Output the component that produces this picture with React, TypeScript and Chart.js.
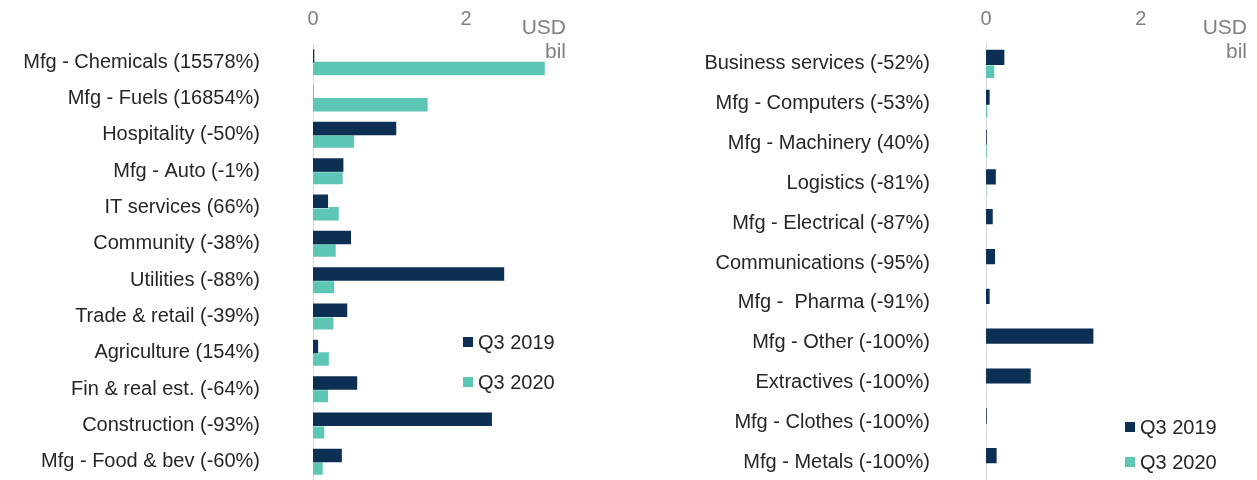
import React, { useEffect, useRef } from "react";
import { Chart, registerables } from "chart.js";

Chart.register(...registerables);

const leftCategories = [
  "Mfg - Chemicals (15578%)",
  "Mfg - Fuels (16854%)",
  "Hospitality (-50%)",
  "Mfg - Auto (-1%)",
  "IT services (66%)",
  "Community (-38%)",
  "Utilities (-88%)",
  "Trade & retail (-39%)",
  "Agriculture (154%)",
  "Fin & real est. (-64%)",
  "Construction (-93%)",
  "Mfg - Food & bev (-60%)",
];
const leftQ3_2019 = [0.03, 0.01, 1.1, 0.41, 0.21, 0.51, 2.51, 0.46, 0.08, 0.59, 2.35, 0.39];
const leftQ3_2020 = [3.04, 1.51, 0.55, 0.4, 0.35, 0.31, 0.29, 0.28, 0.22, 0.21, 0.16, 0.14];

const rightCategories = [
  "Business services (-52%)",
  "Mfg - Computers (-53%)",
  "Mfg - Machinery (40%)",
  "Logistics (-81%)",
  "Mfg - Electrical (-87%)",
  "Communications (-95%)",
  "Mfg -  Pharma (-91%)",
  "Mfg - Other (-100%)",
  "Extractives (-100%)",
  "Mfg - Clothes (-100%)",
  "Mfg - Metals (-100%)",
];
const rightQ3_2019 = [0.25, 0.06, 0.02, 0.14, 0.1, 0.13, 0.06, 1.4, 0.59, 0.02, 0.15];
const rightQ3_2020 = [0.12, 0.03, 0.02, 0.01, 0.005, 0, 0, 0, 0, 0, 0];

const seriesNames = ["Q3 2019", "Q3 2020"];
const xTickValues = [0, 2];
const unitLabel = ["USD", "bil"];

const NAVY = "#0e2f54";
const TEAL = "#5dc6b4";
const FONT = "'Liberation Sans', Arial, sans-serif";

type PanelProps = {
  labels: string[];
  a: number[];
  b: number[];
  left: number;
  width: number;
  height: number;
  axisWidth: number;
  labelPad: number;
  catPct: number;
  barPct: number;
};

function Panel(p: PanelProps) {
  const ref = useRef<HTMLCanvasElement | null>(null);
  useEffect(() => {
    if (!ref.current) return;
    const chart = new Chart(ref.current, {
      type: "bar",
      data: {
        labels: p.labels,
        datasets: [
          {
            label: seriesNames[0],
            data: p.a,
            backgroundColor: NAVY,
            borderColor: "rgba(255,255,255,0.45)",
            borderWidth: 1,
            categoryPercentage: p.catPct,
            barPercentage: p.barPct,
          },
          {
            label: seriesNames[1],
            data: p.b,
            backgroundColor: TEAL,
            borderColor: "rgba(255,255,255,0.45)",
            borderWidth: 1,
            categoryPercentage: p.catPct,
            barPercentage: p.barPct,
          },
        ],
      },
      options: {
        indexAxis: "y",
        animation: false,
        responsive: false,
        maintainAspectRatio: false,
        layout: { padding: 0 },
        plugins: { legend: { display: false }, tooltip: { enabled: false } },
        scales: {
          x: {
            position: "top",
            min: 0,
            max: 3.5,
            grid: { display: false, drawTicks: false },
            border: { display: false },
            ticks: {
              stepSize: 2,
              padding: 13,
              color: "#808080",
              font: { family: FONT, size: 20 },
            },
            afterBuildTicks: (scale: any) => {
              scale.ticks = xTickValues.map((v) => ({ value: v }));
            },
            afterFit: (scale: any) => {
              scale.height = 44;
            },
          },
          y: {
            grid: { display: false, drawTicks: false },
            border: { display: true, color: "#d9d9d9", width: 1 },
            ticks: {
              padding: p.labelPad,
              color: "#262626",
              font: { family: FONT, size: 20 },
            },
            afterFit: (scale: any) => {
              scale.width = p.axisWidth;
              scale.paddingTop = 0;
              scale.paddingBottom = 0;
            },
          },
        },
      },
    } as any);
    return () => chart.destroy();
  }, []);
  return (
    <canvas
      ref={ref}
      width={p.width}
      height={p.height}
      style={{ position: "absolute", left: p.left, top: 0, width: p.width, height: p.height }}
    />
  );
}

function Unit({ right }: { right: number }) {
  return (
    <div
      style={{
        position: "absolute",
        left: right - 100,
        width: 100,
        top: 15,
        textAlign: "right",
        fontFamily: FONT,
        fontSize: 21,
        lineHeight: "24.4px",
        color: "#808080",
      }}
    >
      {unitLabel.map((t) => (
        <div key={t}>{t}</div>
      ))}
    </div>
  );
}

function Legend({ x, y1, y2 }: { x: number; y1: number; y2: number }) {
  const colors = [NAVY, TEAL];
  const ys = [y1, y2];
  return (
    <>
      {seriesNames.map((n, i) => (
        <div
          key={n}
          style={{
            position: "absolute",
            left: x,
            top: ys[i] - 12,
            height: 24,
            display: "flex",
            alignItems: "center",
            fontFamily: FONT,
            fontSize: 20,
            lineHeight: "24px",
            color: "#262626",
            whiteSpace: "nowrap",
          }}
        >
          <span
            style={{ display: "inline-block", width: 10, height: 10, background: colors[i], marginRight: 5 }}
          />
          <span>{n}</span>
        </div>
      ))}
    </>
  );
}

export default function App() {
  return (
    <div
      style={{
        position: "fixed",
        left: 0,
        top: 0,
        width: 1257,
        height: 480,
        overflow: "hidden",
        background: "#fff",
      }}
    >
      <Panel
        labels={leftCategories}
        a={leftQ3_2019}
        b={leftQ3_2020}
        left={0}
        width={581}
        height={480}
        axisWidth={313}
        labelPad={53}
        catPct={0.69}
        barPct={1.24}
      />
      <Panel
        labels={rightCategories}
        a={rightQ3_2019}
        b={rightQ3_2020}
        left={640}
        width={617}
        height={482}
        axisWidth={346}
        labelPad={56}
        catPct={0.65}
        barPct={1.33}
      />
      <Unit right={566} />
      <Unit right={1247} />
      <Legend x={463} y1={342} y2={382} />
      <Legend x={1125} y1={427} y2={462} />
    </div>
  );
}
